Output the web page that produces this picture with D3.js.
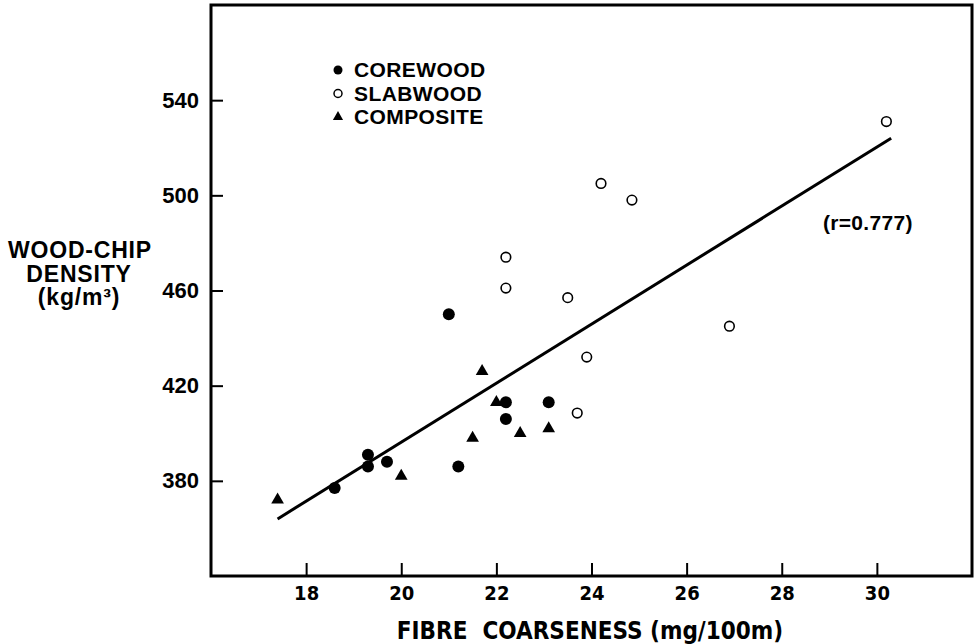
<!DOCTYPE html>
<html>
<head>
<meta charset="utf-8">
<script src="https://cdn.jsdelivr.net/npm/d3@7"></script>
<style>
  html, body { margin: 0; padding: 0; background: #fff; }
  svg { display: block; }
</style>
</head>
<body>
<div id="chart"></div>
<script>
// Data
const coreX = [21.0, 22.2, 23.1, 22.2, 19.3, 19.3, 19.7, 21.2, 18.6];
const coreY = [450, 413, 413, 406, 391, 386, 388, 386, 377];
const slabX = [30.2, 24.2, 24.85, 22.2, 22.2, 23.5, 26.9, 23.9, 23.7];
const slabY = [531, 505, 498, 474, 461, 457, 445, 432, 408.5];
const compX = [17.4, 20.0, 21.7, 22.0, 21.5, 22.5, 23.1];
const compY = [372, 382, 426, 413, 398, 400, 402];
const fitX = [17.4, 30.3];
const fitY = [364, 524];
const xTicks = [18, 20, 22, 24, 26, 28, 30];
const yTicks = [380, 420, 460, 500, 540];
const legendLabels = ["COREWOOD", "SLABWOOD", "COMPOSITE"];
const yTitleLines = ["WOOD-CHIP", "DENSITY", "(kg/m³)"];

const W = 976, H = 644;
const plot = { left: 211, right: 972, top: 5, bottom: 576 };

const svg = d3.select("#chart").append("svg")
    .attr("width", W)
    .attr("height", H);

const x = d3.scaleLinear().domain([16, 32]).range([plot.left, plot.right]);
const y = d3.scaleLinear().domain([340, 580]).range([plot.bottom, plot.top]);

const boldSans = "'Liberation Sans', Arial, Helvetica, sans-serif";
const narrowSans = "'DejaVu Sans Condensed', 'Liberation Sans Narrow', sans-serif";

// Axes (ticks point inward)
const yAxis = svg.append("g")
    .attr("transform", `translate(${plot.left},0)`)
    .call(d3.axisLeft(y).tickValues(yTicks).tickSizeInner(-12).tickSizeOuter(0).tickPadding(12));
yAxis.select(".domain").remove();
yAxis.selectAll(".tick line").attr("stroke", "#000").attr("stroke-width", 2);
yAxis.selectAll(".tick text")
    .attr("fill", "#000")
    .style("font-family", boldSans)
    .style("font-weight", "bold")
    .style("font-size", "22px");

const xAxis = svg.append("g")
    .attr("transform", `translate(0,${plot.bottom})`)
    .call(d3.axisBottom(x).tickValues(xTicks).tickSizeInner(-13).tickSizeOuter(0).tickPadding(10));
xAxis.select(".domain").remove();
xAxis.selectAll(".tick line").attr("stroke", "#000").attr("stroke-width", 2);
xAxis.selectAll(".tick text")
    .attr("fill", "#000")
    .style("font-family", narrowSans)
    .style("font-weight", "bold")
    .style("font-size", "20px");

// Frame
svg.append("rect")
    .attr("x", plot.left).attr("y", plot.top)
    .attr("width", plot.right - plot.left).attr("height", plot.bottom - plot.top)
    .attr("fill", "none")
    .attr("stroke", "#000")
    .attr("stroke-width", 3);

// Regression line
svg.append("line")
    .attr("x1", x(fitX[0])).attr("y1", y(fitY[0]))
    .attr("x2", x(fitX[1])).attr("y2", y(fitY[1]))
    .attr("stroke", "#000")
    .attr("stroke-width", 3);

const tri = d3.symbol().type(d3.symbolTriangle).size(70);
const triSmall = d3.symbol().type(d3.symbolTriangle).size(45);

// Corewood (filled circles)
svg.selectAll(".core")
    .data(d3.zip(coreX, coreY))
    .enter().append("circle")
    .attr("cx", d => x(d[0]))
    .attr("cy", d => y(d[1]))
    .attr("r", 6)
    .attr("fill", "#000");

// Slabwood (open circles)
svg.selectAll(".slab")
    .data(d3.zip(slabX, slabY))
    .enter().append("circle")
    .attr("cx", d => x(d[0]))
    .attr("cy", d => y(d[1]))
    .attr("r", 4.8)
    .attr("fill", "#fff")
    .attr("stroke", "#000")
    .attr("stroke-width", 1.6);

// Composite (triangles)
svg.selectAll(".comp")
    .data(d3.zip(compX, compY))
    .enter().append("path")
    .attr("d", tri)
    .attr("transform", d => `translate(${x(d[0])},${y(d[1])})`)
    .attr("fill", "#000");

// Legend
const legend = svg.append("g").attr("transform", "translate(338,70)");
legendLabels.forEach((lab, i) => {
    const g = legend.append("g").attr("transform", `translate(0,${i * 23.5})`);
    if (i === 0) g.append("circle").attr("r", 4.5).attr("fill", "#000");
    if (i === 1) g.append("circle").attr("r", 4).attr("fill", "#fff").attr("stroke", "#000").attr("stroke-width", 1.5);
    if (i === 2) g.append("path").attr("d", triSmall).attr("fill", "#000");
    g.append("text")
        .attr("x", 16).attr("y", 7)
        .text(lab)
        .attr("fill", "#000")
        .style("font-family", boldSans)
        .style("font-weight", "bold")
        .style("font-size", "21px")
        .style("letter-spacing", "0.4px");
});

// Correlation note
svg.append("text")
    .attr("x", 823).attr("y", 230)
    .text("(r=0.777)")
    .attr("fill", "#000")
    .style("font-family", boldSans)
    .style("font-weight", "bold")
    .style("font-size", "21px")
    .style("letter-spacing", "0.3px");

// Y axis title, one text per line
svg.selectAll(".ytitle")
    .data(yTitleLines)
    .enter().append("text")
    .attr("x", (d, i) => i === 0 ? 80 : 79)
    .attr("y", (d, i) => 258 + i * 23.5)
    .attr("text-anchor", "middle")
    .attr("fill", "#000")
    .style("font-family", boldSans)
    .style("font-weight", "bold")
    .style("font-size", "23px")
    .style("letter-spacing", "0.8px")
    .text(d => d);

// X axis title
svg.append("text")
    .attr("x", 590).attr("y", 639)
    .attr("text-anchor", "middle")
    .attr("fill", "#000")
    .style("font-family", narrowSans)
    .style("font-weight", "bold")
    .style("font-size", "24px")
    .style("white-space", "pre")
    .text("FIBRE  COARSENESS (mg/100m)");
</script>
</body>
</html>
